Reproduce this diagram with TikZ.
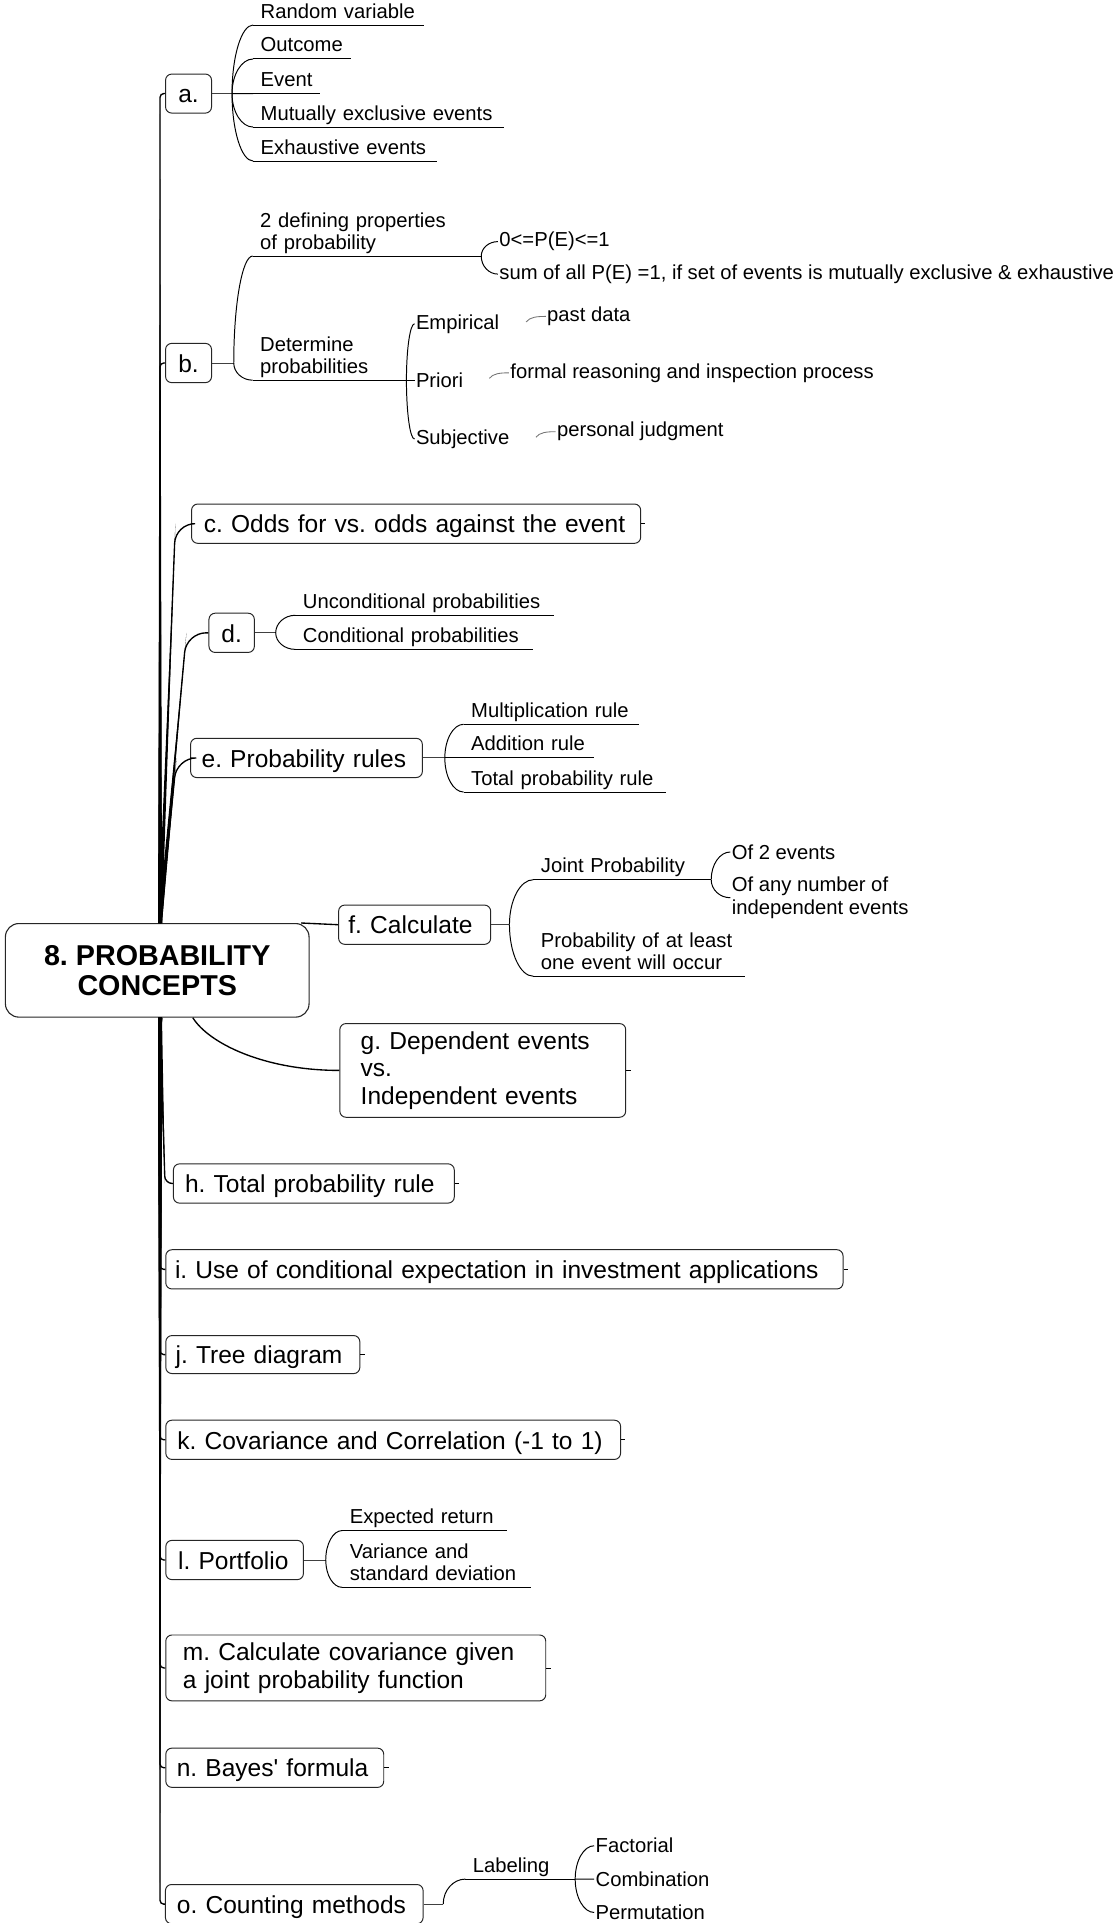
\documentclass[tikz,border=0pt]{standalone}
\usepackage{fontspec}
\setmainfont{Liberation Sans}
\usetikzlibrary{calc}
\begin{document}
\begin{tikzpicture}[x=1pt,y=-1pt,
  every node/.style={font=\fontsize{16.5}{18}\selectfont, text=black, execute at begin node={\frenchspacing}},
  topic/.style={draw=black!85, fill=white, line width=0.8pt, rounded corners=5pt, anchor=west,
    align=left, inner ysep=0pt, font=\fontsize{20}{22.5}\selectfont},
  one/.style={text height=16.5pt, text depth=1.5pt},
  centraltopic/.style={draw=black!85, fill=white, line width=0.9pt, rounded corners=11pt,
    align=center, font=\bfseries\fontsize{23.4}{24.5}\selectfont},
  leaf/.style={anchor=south west, inner xsep=6pt, inner ysep=2pt, text depth=3.5pt, align=left},
  twoline/.style={text depth=21.5pt},
  plain/.style={anchor=west, inner xsep=1pt, align=left},
  uline/.style={line width=0.8pt},
  link/.style={line width=0.8pt, black!75},
  branch/.style={line width=1.1pt},
  taper/.style={fill=black},
  notearc/.style={line width=0.7pt, black!55},
  stub/.style={line width=0.7pt},
  fan/.style 2 args={insert path={(#1) .. controls ($(#1)!0.55!(#1|-#2)$) and ($(#2)!0.55!(#1|-#2)$) .. (#2)}}
]
\useasboundingbox (0,0) rectangle (912,1568);

% central topic
\node[centraltopic, minimum width=247.6pt, minimum height=76.3pt] (root) at (128.2,791.2) {8. PROBABILITY\\CONCEPTS};

% main topics
\node[topic, one, align=center, minimum width=37.5pt, minimum height=31.8pt, inner xsep=0pt] (a) at (134.6,76.3) {a.};
\node[topic, one, align=center, minimum width=37.5pt, minimum height=32pt, inner xsep=0pt] (b) at (134.6,296) {b.};
\node[topic, one, minimum width=366.2pt, minimum height=32pt, inner xsep=10pt, text width=346.2pt] (c) at (155.8,427) {\mbox{c. Odds for vs. odds against the event}};
\node[topic, one, align=center, minimum width=37pt, minimum height=32pt, inner xsep=0pt] (d) at (170,516) {d.};
\node[topic, one, minimum width=189pt, minimum height=32pt, inner xsep=9pt, text width=171pt] (e) at (155,618) {\mbox{e. Probability rules}};
\node[topic, one, minimum width=124pt, minimum height=32pt, inner xsep=8pt, text width=108pt] (f) at (275.7,754) {\mbox{f. Calculate}};
\node[topic, minimum width=233.1pt, minimum height=76.4pt, inner xsep=17pt, text width=199.1pt] (g) at (276.7,872.8) {\mbox{g. Dependent events}\\vs.\\\mbox{Independent events}};
\node[topic, one, minimum width=229pt, minimum height=32pt, inner xsep=9.5pt, text width=210pt] (h) at (141,965) {\mbox{h. Total probability rule}};
\node[topic, one, minimum width=552.2pt, minimum height=32pt, inner xsep=7.5pt, text width=537.2pt] (i) at (134.8,1035) {\mbox{i. Use of conditional expectation in investment applications}};
\node[topic, one, minimum width=158.2pt, minimum height=31pt, inner xsep=8pt, text width=142.2pt] (j) at (134.8,1104.5) {\mbox{j. Tree diagram}};
\node[topic, one, minimum width=370.8pt, minimum height=32pt, inner xsep=9.4pt, text width=352pt] (k) at (134.8,1174) {\mbox{k. Covariance and Correlation (-1 to 1)}};
\node[topic, one, minimum width=112.2pt, minimum height=32pt, inner xsep=10pt, text width=92.2pt] (l) at (134.8,1272) {\mbox{l. Portfolio}};
\node[topic, minimum width=309.8pt, minimum height=53.7pt, inner xsep=14pt, text width=281.8pt] (m) at (134.8,1360) {\mbox{m. Calculate covariance given}\\\mbox{a joint probability function}};
\node[topic, one, minimum width=177.7pt, minimum height=32pt, inner xsep=9pt, text width=159.7pt] (n) at (134.8,1441.4) {\mbox{n. Bayes\textquotesingle\ formula}};
\node[topic, one, minimum width=210.1pt, minimum height=32pt, inner xsep=9.4pt, text width=191.3pt] (o) at (134.5,1552.6) {\mbox{o. Counting methods}};

% short end stubs on topics without subtopics
\foreach \t in {c,g,h,i,j,k,m,n} {\draw[stub] (\t.east) -- ++(3.5,0);}

% branches from the central topic
\coordinate (tx) at (130.5,0);
\coordinate (rt) at (root.north -| tx);
\coordinate (rb) at (root.south -| tx);
\foreach \t in {a,b} {
  \fill[taper] ($(rt)+(-1.6,0)$) -- ($(rt)+(1.6,0)$) -- (rt|-\t.west) -- cycle;
  \draw[branch, rounded corners=3pt] (rt) -- (rt|-\t.west) -- (\t.west);
}
\foreach \t/\o in {c/12.8,d/18,e/11} {
  \coordinate (\t k) at ($(\t.west)+(-\o,0)$);
  \fill[taper] ($(rt)+(-1.6,0)$) -- ($(rt)+(1.6,0)$) -- (\t k) -- cycle;
  \draw[branch, rounded corners=16pt] (rt) -- (\t k) -- (\t.west);
}
\coordinate (hk) at ($(h.west)+(-6.5,0)$);
\fill[taper] ($(rb)+(-1.6,0)$) -- ($(rb)+(1.6,0)$) -- (hk) -- cycle;
\draw[branch, rounded corners=6pt] (rb) -- (hk) -- (h.west);
\foreach \t in {i,j,k,l,m,n,o} {
  \fill[taper] ($(rb)+(-1.6,0)$) -- ($(rb)+(1.6,0)$) -- (rb|-\t.west) -- cycle;
  \draw[branch, rounded corners=3pt] (rb) -- (rb|-\t.west) -- (\t.west);
}
\draw[branch] ($(root.north east)+(-7,0)$) -- (f.west);
\draw[branch] ($(root.south)+(29,0)$) .. controls +(12.8,20.7) and +(-61.7,0) .. (g.west);

% a. terms
\coordinate (ja) at ($(a.east)+(16.3,0)$);
\node[leaf, text width=126.6pt] (rv) at (206.4,20.4) {\mbox{Random variable}};
\node[leaf, text width=67.1pt] (outc) at (206.4,48.1) {\mbox{Outcome}};
\node[leaf, text width=41.8pt] (evt) at (206.4,76.3) {\mbox{Event}};
\node[leaf, text width=191.9pt] (mut) at (206.4,103.6) {\mbox{Mutually exclusive events}};
\node[leaf, text width=137.3pt] (exh) at (206.4,131.3) {\mbox{Exhaustive events}};
\draw[link] (a.east) -- (ja);
\foreach \s in {rv,outc,evt,mut,exh} {
  \draw[uline, fan={ja}{\s.south west}];
  \draw[uline] (\s.south west) -- (\s.south east);
}

% b. probability
\coordinate (jb) at ($(b.east)+(17.7,0)$);
\node[leaf, twoline, text width=174pt] (defp) at (206,208.8) {2 defining properties\\of probability};
\node[leaf, twoline, text width=113pt] (det) at (206,310) {Determine\\probabilities};
\draw[link] (b.east) -- (jb);
\foreach \s in {defp,det} {
  \draw[uline, fan={jb}{\s.south west}];
  \draw[uline] (\s.south west) -- (\s.south east);
}
\node[plain] (p01) at (406,197) {0<=P(E)<=1};
\node[plain] (sum) at (406,223.5) {sum of all P(E) =1, if set of events is mutually exclusive \& exhaustive};
\draw[uline, fan={defp.south east}{p01.west}];
\draw[uline, fan={defp.south east}{sum.west}];
\node[plain] (emp) at (338,264) {Empirical};
\node[plain] (pri) at (338,310) {Priori};
\node[plain] (subj) at (338,358) {Subjective};
\foreach \s in {emp,pri,subj} {\draw[uline, fan={det.south east}{\s.west}];}
\node[plain] (past) at (445,258) {past data};
\node[plain] (formal) at (415,304) {formal reasoning and inspection process};
\node[plain] (pers) at (453,352) {personal judgment};
\foreach \s in {past,formal,pers} {
  \draw[notearc] ($(\s.west)+(-16,4.5)$) .. controls +(3,-4) and +(-7,0) .. (\s.west);
}

% d. probabilities
\coordinate (jd) at ($(d.east)+(17,0)$);
\node[leaf, text width=198.8pt] (unc) at (240.8,501.7) {\mbox{Unconditional probabilities}};
\node[leaf, text width=181.2pt] (cnd) at (240.8,529.5) {\mbox{Conditional probabilities}};
\draw[link] (d.east) -- (jd);
\foreach \s in {unc,cnd} {
  \draw[uline, fan={jd}{\s.south west}];
  \draw[uline] (\s.south west) -- (\s.south east);
}

% e. rules
\coordinate (je) at ($(e.east)+(17.9,0)$);
\node[leaf, text width=131pt] (mult) at (378,590.6) {\mbox{Multiplication rule}};
\node[leaf, text width=94pt] (addr) at (378,618) {\mbox{Addition rule}};
\node[leaf, text width=152.5pt] (totr) at (378,645.8) {\mbox{Total probability rule}};
\draw[link] (e.east) -- (je);
\foreach \s in {mult,addr,totr} {
  \draw[uline, fan={je}{\s.south west}];
  \draw[uline] (\s.south west) -- (\s.south east);
}

% f. calculate
\coordinate (jf) at ($(f.east)+(14.9,0)$);
\node[leaf, text width=132.6pt] (joint) at (434.9,717.3) {\mbox{Joint Probability}};
\node[leaf, twoline, text width=160.5pt] (atl) at (434.9,796) {Probability of at least\\one event will occur};
\draw[link] (f.east) -- (jf);
\foreach \s in {joint,atl} {
  \draw[uline, fan={jf}{\s.south west}];
  \draw[uline] (\s.south west) -- (\s.south east);
}
\node[plain] (of2) at (595.5,694.7) {Of 2 events};
\node[plain] (ofany) at (595.5,732) {Of any number of\\independent events};
\draw[uline, fan={joint.south east}{of2.west}];
\draw[uline, fan={joint.south east}{ofany.west}];

% l. portfolio
\coordinate (jl) at ($(l.east)+(17.8,0)$);
\node[leaf, text width=121.8pt] (expr) at (279,1248) {\mbox{Expected return}};
\node[leaf, twoline, text width=141.4pt] (var) at (279,1294.3) {Variance and\\standard deviation};
\draw[link] (l.east) -- (jl);
\foreach \s in {expr,var} {
  \draw[uline, fan={jl}{\s.south west}];
  \draw[uline] (\s.south west) -- (\s.south east);
}

% o. counting
\coordinate (jo) at ($(o.east)+(16,0)$);
\node[leaf, text width=77.2pt] (lab) at (379.4,1532.2) {\mbox{Labeling}};
\draw[link] (o.east) -- (jo);
\draw[uline, fan={jo}{lab.south west}];
\draw[uline] (lab.south west) -- (lab.south east);
\node[plain] (fac) at (484.5,1505) {Factorial};
\node[plain] (comb) at (484.5,1532.2) {Combination};
\node[plain] (perm) at (484.5,1559.4) {Permutation};
\foreach \s in {fac,comb,perm} {\draw[uline, fan={lab.south east}{\s.west}];}
\end{tikzpicture}
\end{document}
